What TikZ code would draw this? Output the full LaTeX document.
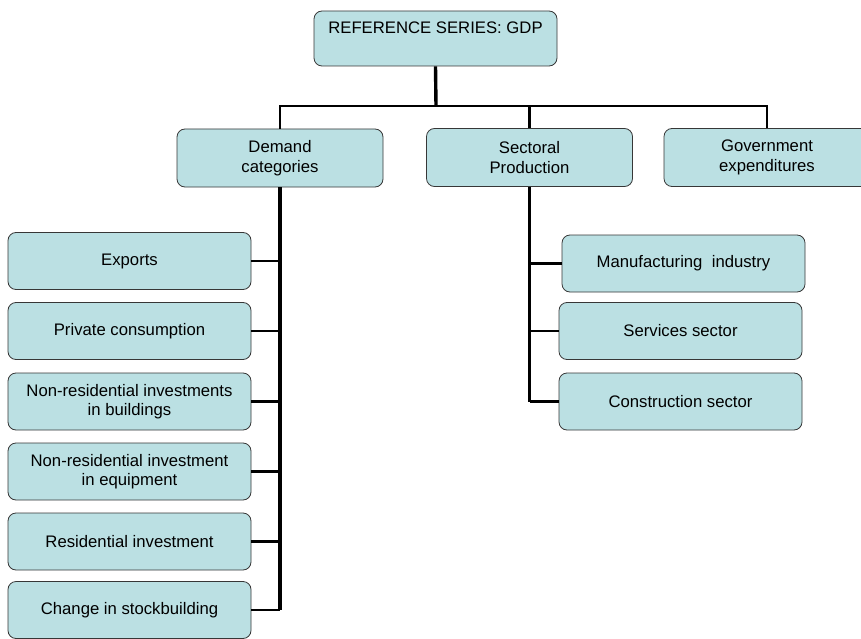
\documentclass[tikz,border=0pt]{standalone}
\usepackage{fontspec}
\setmainfont{Liberation Sans}
\usepackage{xcolor}
\definecolor{boxfill}{RGB}{187,224,227}
\definecolor{boxline}{RGB}{55,55,55}
\tikzset{
  box/.style={draw=boxline,fill=boxfill,line width=0.8pt,rounded corners=8pt,
    align=center,inner sep=0pt,font=\fontsize{16.7}{19.5}\selectfont},
  topbox/.style={box,minimum width=206pt,minimum height=58pt},
  leafbox/.style={box,minimum width=243pt,minimum height=57pt},
  trunk/.style={line width=3.4pt},
  branch/.style={line width=2.3pt}
}
\begin{document}
\begin{tikzpicture}[x=1pt,y=-1pt]
\useasboundingbox (0,0) rectangle (861,639);
\node[box,minimum width=243pt,text height=23pt,text depth=32pt,anchor=base](gdp)at(435.5,34){REFERENCE SERIES: GDP};
\coordinate(bus)at(436,106);
\node[topbox](demand)at(280,158){Demand\\categories};
\node[topbox](sector)at(529.5,157.5){Sectoral\\Production};
\node[topbox](gov)at(767,157.5){Government\\expenditures};
\node[leafbox](exports)at(129.5,261){Exports};
\node[leafbox](private)at(129.5,331){Private consumption};
\node[leafbox](buildings)at(129.5,401.5){Non-residential investments\\in buildings};
\node[leafbox](equipment)at(129.5,471.5){Non-residential investment\\in equipment};
\node[leafbox](residential)at(129.5,541.5){Residential investment};
\node[leafbox](stock)at(129.5,610){Change in stockbuilding};
\node[leafbox](manuf)at(683.5,263.5){Manufacturing~ industry};
\node[leafbox](services)at(680.5,331){Services sector};
\node[leafbox](constr)at(680.5,401.5){Construction sector};
\draw[trunk](gdp.south)--(bus);
\draw[branch](demand.north)|-(bus)-|(gov.north);
\draw[branch](sector.north)--(sector.north|-bus);
\draw[trunk](demand.south)--(demand.south|-stock.east);
\foreach \n in {exports,private,buildings,equipment,residential,stock}
  \draw[branch](\n.east)--(\n.east-|demand.south);
\draw[line width=2.6pt](sector.south)--(sector.south|-constr.west);
\foreach \n in {manuf,services,constr}
  \draw[branch](\n.west)--(\n.west-|sector.south);
\end{tikzpicture}
\end{document}
